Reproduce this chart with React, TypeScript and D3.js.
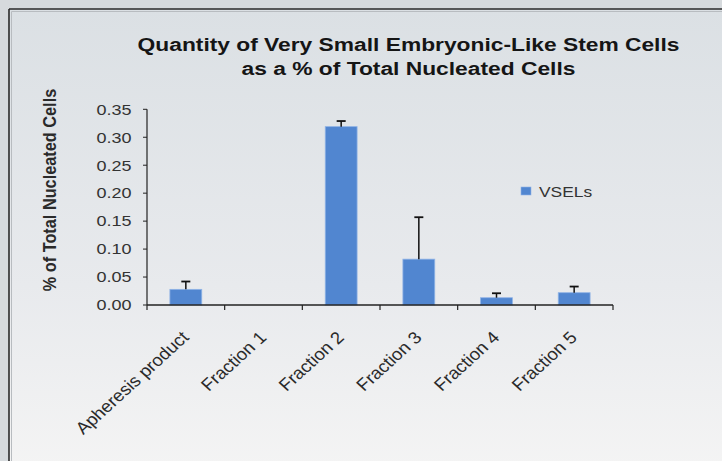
import React from "react";
import * as d3 from "d3";

const categories = ["Apheresis product", "Fraction 1", "Fraction 2", "Fraction 3", "Fraction 4", "Fraction 5"];
const values = [0.028, 0, 0.319, 0.082, 0.013, 0.022];
const errors = [0.014, 0, 0.010, 0.075, 0.008, 0.011];
const yTicks = [0, 0.05, 0.1, 0.15, 0.2, 0.25, 0.3, 0.35];
const seriesName = "VSELs";
const titleLines = ["Quantity of Very Small Embryonic-Like Stem Cells", "as a % of Total Nucleated Cells"];
const yTitle = "% of Total Nucleated Cells";

const W = 722, H = 461;
const SX = 1.2;
const FONT = "'Liberation Sans', Arial, sans-serif";

export default function App() {
  const x = d3.scaleBand<string>().domain(categories).range([147, 613]).padding(0);
  const y = d3.scaleLinear().domain([0, 0.35]).range([305, 109.3]);
  const bw = x.bandwidth() * 0.41;
  const boundaries = categories.map((c) => x(c)!).concat([613]);

  return (
    <svg width={W} height={H} style={{ position: "absolute", left: 0, top: 0 }}>
      <defs>
        <linearGradient id="bg" x1="0" y1="0" x2="0" y2="1">
          <stop offset="0" stopColor="#dbe0e4" />
          <stop offset="0.6" stopColor="#e8eaed" />
          <stop offset="1" stopColor="#f4f4f4" />
        </linearGradient>
      </defs>
      <rect x={0} y={0} width={W} height={H} fill="#d6dadd" />
      <rect x={9} y={9} width={W} height={H} fill="url(#bg)" />
      <line x1={9} y1={9} x2={W} y2={9} stroke="#2a2a2a" strokeWidth={1.6} />
      <line x1={9} y1={9} x2={9} y2={H} stroke="#2a2a2a" strokeWidth={1.6} />
      <line x1={11.5} y1={11.5} x2={W} y2={11.5} stroke="#b8bcc0" strokeWidth={1} />
      <line x1={11.5} y1={11.5} x2={11.5} y2={H} stroke="#b8bcc0" strokeWidth={1} />

      {titleLines.map((t, i) => (
        <text key={t} transform={`translate(408.5,${51 + i * 24}) scale(${SX},1)`} textAnchor="middle"
          fontFamily={FONT} fontWeight="bold" fontSize={19} fill="#151515">{t}</text>
      ))}

      <text transform={`translate(55.5,190) scale(1.1,1) rotate(-90)`} textAnchor="middle"
        fontFamily={FONT} fontWeight="bold" fontSize={16.3} fill="#2a2a2a">{yTitle}</text>

      {values.map((v, i) => {
        const cx = x(categories[i])! + x.bandwidth() / 2;
        if (v <= 0) return null;
        return (
          <g key={i}>
            <rect x={cx - bw / 2} y={y(v)} width={bw} height={y(0) - y(v)} fill="#5186d0" stroke="#8fb3e6" strokeWidth={0.8} />
            <line x1={cx} x2={cx} y1={y(v)} y2={y(v + errors[i])} stroke="#111" strokeWidth={1.5} />
            <line x1={cx - 4.5} x2={cx + 4.5} y1={y(v + errors[i])} y2={y(v + errors[i])} stroke="#111" strokeWidth={1.8} />
          </g>
        );
      })}

      <line x1={147} x2={147} y1={109.3} y2={305} stroke="#222" strokeWidth={1.2} />
      <line x1={147} x2={613} y1={305} y2={305} stroke="#222" strokeWidth={1.4} />
      {yTicks.map((t) => (
        <g key={t}>
          <line x1={143} x2={147} y1={y(t)} y2={y(t)} stroke="#222" strokeWidth={1} />
          <text transform={`translate(131.5,${y(t) + 5.3}) scale(${SX},1)`} textAnchor="end"
            fontFamily={FONT} fontSize={15} fill="#333">{t.toFixed(2)}</text>
        </g>
      ))}
      {boundaries.map((b, i) => (
        <line key={i} x1={b} x2={b} y1={305} y2={310} stroke="#222" strokeWidth={1.2} />
      ))}
      {categories.map((c) => {
        const cx = x(c)! + x.bandwidth() / 2;
        return (
          <text key={c} transform={`translate(${cx + 4},338.5) scale(1.1,1) rotate(-45)`} textAnchor="end"
            fontFamily={FONT} fontSize={17} fill="#2a2a2a">{c}</text>
        );
      })}

      <rect x={521} y={187} width={10} height={8} fill="#5186d0" stroke="#8fb3e6" strokeWidth={0.6} />
      <text transform={`translate(539,197) scale(${SX},1)`} fontFamily={FONT} fontSize={14.5} fill="#333">{seriesName}</text>
    </svg>
  );
}
